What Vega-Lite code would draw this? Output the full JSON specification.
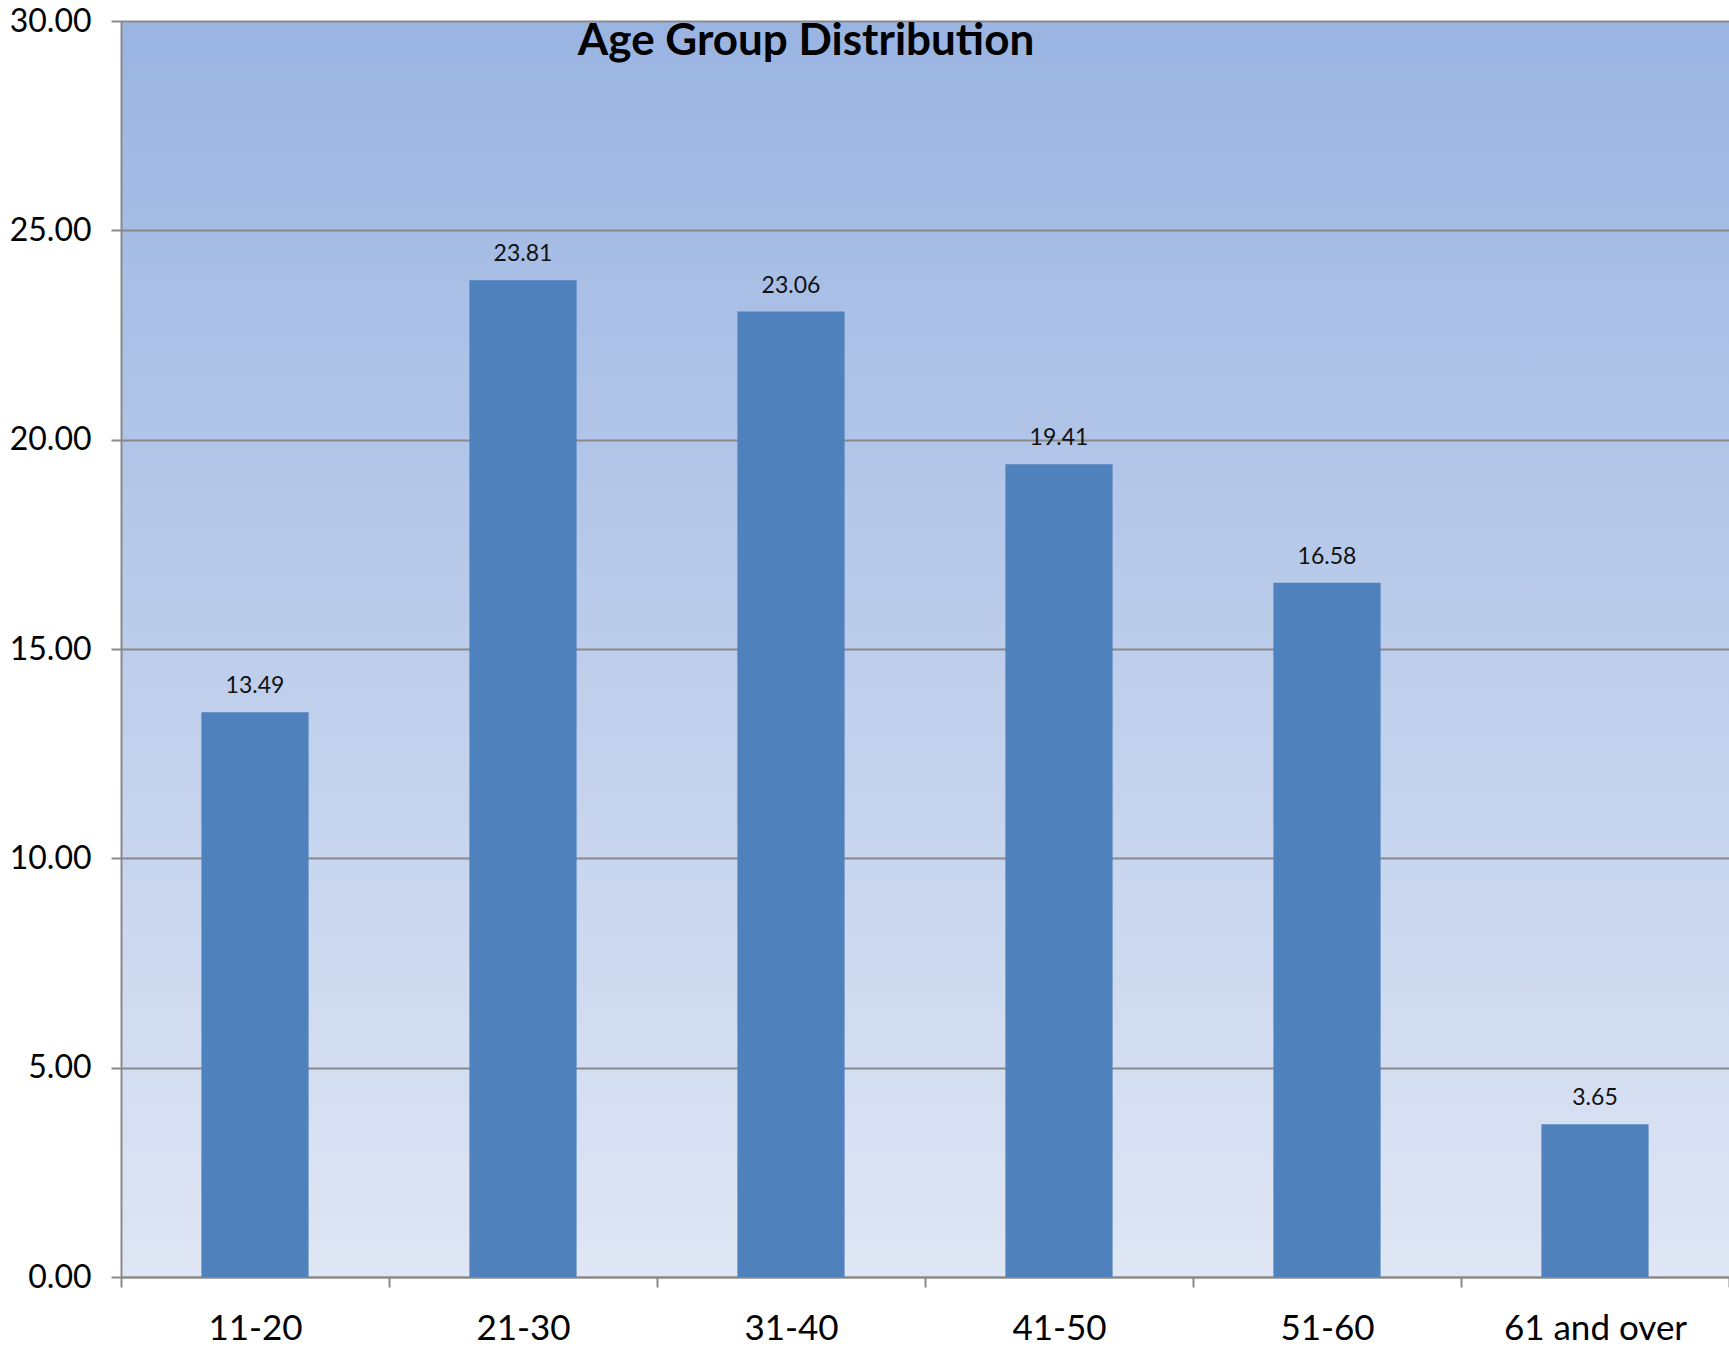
{
  "$schema": "https://vega.github.io/schema/vega-lite/v6.json",
  "autosize": {"type": "none"},
  "padding": {"left": 121, "top": 21, "right": 0, "bottom": 77},
  "width": 1608,
  "height": 1256,
  "background": "#ffffff",
  "title": {
    "text": "Age Group Distribution",
    "anchor": "middle",
    "dx": -119,
    "baseline": "top",
    "offset": 0,
    "dy": 59,
    "font": "Lato",
    "fontSize": 44,
    "fontWeight": "bold",
    "color": "#000000"
  },
  "data": {
    "values": [
      {"age": "11-20", "pct": 13.49},
      {"age": "21-30", "pct": 23.81},
      {"age": "31-40", "pct": 23.06},
      {"age": "41-50", "pct": 19.41},
      {"age": "51-60", "pct": 16.58},
      {"age": "61 and over", "pct": 3.65}
    ]
  },
  "encoding": {
    "x": {
      "field": "age",
      "type": "nominal",
      "sort": null,
      "scale": {"paddingInner": 0, "paddingOuter": 0},
      "axis": {
        "title": null,
        "labelAngle": 0,
        "labelFont": "Lato",
        "labelFontSize": 35,
        "labelLimit": 0,
        "labelColor": "#000000",
        "labelPadding": 24,
        "tickBand": "extent",
        "tickSize": 10,
        "tickWidth": 2,
        "tickColor": "#898989",
        "domainColor": "#898989",
        "domainWidth": 2,
        "grid": false
      }
    },
    "y": {
      "field": "pct",
      "type": "quantitative",
      "scale": {"domain": [0, 30], "nice": false},
      "axis": {
        "title": null,
        "values": [0, 5, 10, 15, 20, 25, 30],
        "format": ".2f",
        "labelFont": "Lato",
        "labelFontSize": 32,
        "labelColor": "#000000",
        "labelPadding": 20,
        "tickSize": 10,
        "tickWidth": 2,
        "tickColor": "#898989",
        "domainColor": "#898989",
        "domainWidth": 2,
        "grid": true,
        "gridColor": "#898989",
        "gridWidth": 2,
        "gridOpacity": 1
      }
    }
  },
  "layer": [
    {"mark": {"type": "bar", "color": "#4F81BD", "width": {"band": 0.4}}},
    {
      "mark": {
        "type": "text",
        "baseline": "bottom",
        "dy": -14,
        "font": "Lato",
        "fontSize": 23,
        "color": "#111111"
      },
      "encoding": {"text": {"field": "pct", "type": "quantitative", "format": ".2f"}}
    }
  ],
  "config": {
    "view": {
      "stroke": null,
      "fill": {
        "gradient": "linear",
        "x1": 0, "y1": 0, "x2": 0, "y2": 1,
        "stops": [
          {"offset": 0, "color": "#9AB4E2"},
          {"offset": 1, "color": "#DFE6F4"}
        ]
      }
    }
  }
}
